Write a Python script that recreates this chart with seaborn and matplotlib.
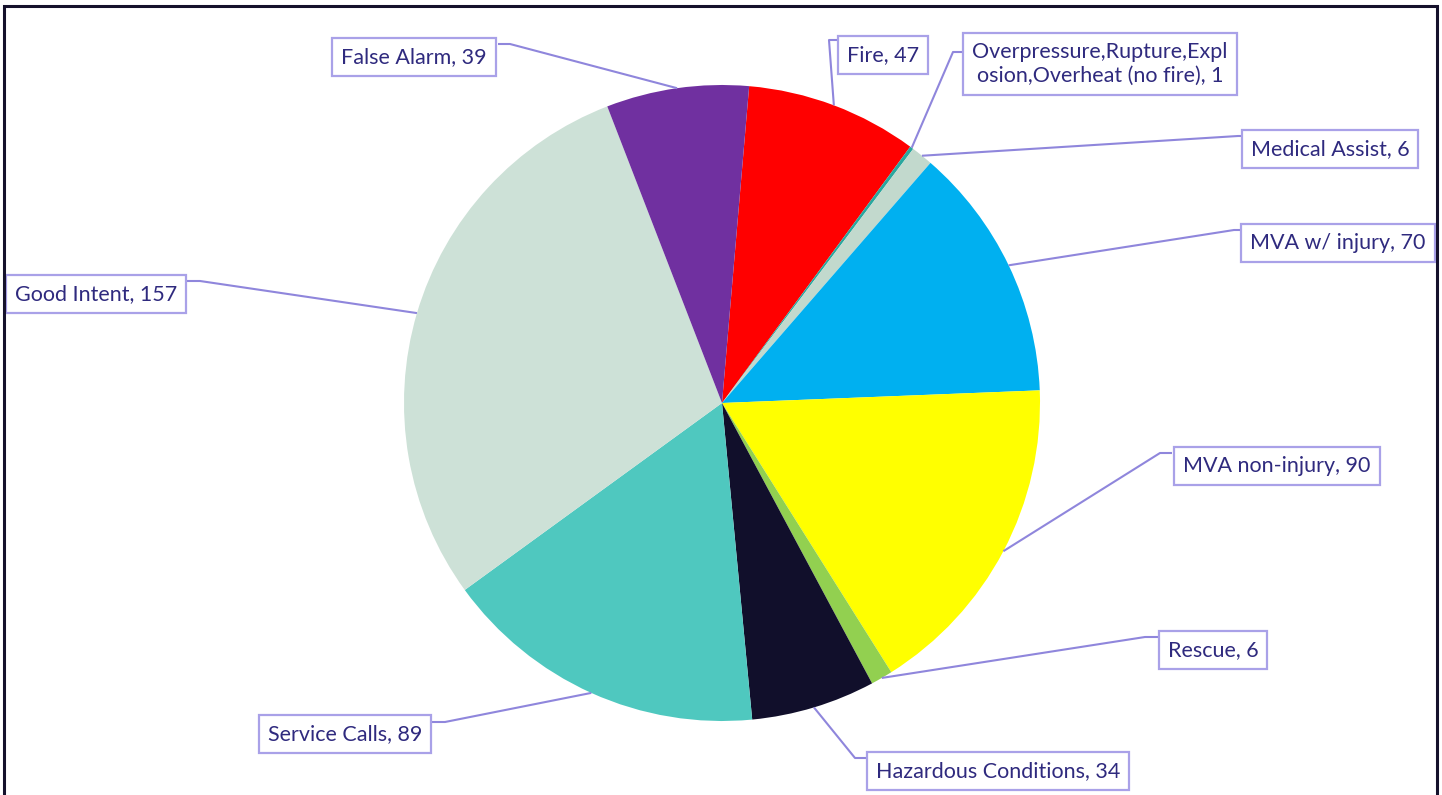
import matplotlib
matplotlib.use("Agg")
import matplotlib.pyplot as plt
import seaborn as sns
import numpy as np
from matplotlib.patches import Rectangle

categories = ["Fire", "Overpressure,Rupture,Expl\nosion,Overheat (no fire)", "Medical Assist",
              "MVA w/ injury", "MVA non-injury", "Rescue", "Hazardous Conditions",
              "Service Calls", "Good Intent", "False Alarm"]
values = [47, 1, 6, 70, 90, 6, 34, 89, 157, 39]
colors = ["#FF0000", "#2AA79E", "#C2D9CD", "#00B0F0", "#FFFF00", "#92D050",
          "#110F2B", "#4FC8BF", "#CDE1D7", "#7030A0"]

sns.set_theme(style="white")
plt.rcParams['font.family'] = ['Lato', 'DejaVu Sans']

W, H = 1442, 795
fig = plt.figure(figsize=(W / 100, H / 100), dpi=100)
fig.patch.set_facecolor("white")
ax = fig.add_axes([0, 0, 1, 1])
cx, cy, R = 722, H - 403, 318
wedges, _ = ax.pie(values, colors=colors, startangle=90 - 4.9, counterclock=False,
                   radius=R, center=(cx, cy), wedgeprops=dict(linewidth=0))
ax.set_xlim(0, W)
ax.set_ylim(0, H)
ax.set_aspect('equal')
ax.axis('off')

# label layout in pixel coords: box centre, attach point, elbow offset
layout = [
    ((883, 55), (838, 40), -9),
    ((1100, 64), (965, 52), -12),
    ((1330, 149), (1250, 136), -12),
    ((1338, 243), (1246, 230), -12),
    ((1277, 466), (1172, 453), -12),
    ((1213, 650), (1158, 637), -13),
    ((998, 771), (866, 758), -11),
    ((345, 734), (432, 722), 13),
    ((96, 294), (187, 281), 13),
    ((414, 57), (498, 44), 12),
]

text_color = "#2F2A7E"
box_color = "#A9A1E8"
line_color = "#8F86DC"

for w, cat, val, (bc, at, el) in zip(wedges, categories, values, layout):
    mid = np.deg2rad((w.theta1 + w.theta2) / 2)
    px, py = cx + R * np.cos(mid), cy + R * np.sin(mid)
    ax.plot([px, at[0] + el, at[0]], [py, H - at[1], H - at[1]], color=line_color,
            lw=1.5, zorder=3, solid_capstyle='butt')
    ax.text(bc[0], H - bc[1], f"{cat}, {val}", ha='center', va='center', fontsize=15.5,
            color=text_color, zorder=5, linespacing=1.2,
            bbox=dict(boxstyle='square,pad=0.42', fc='white', ec=box_color, lw=1.6))

fig.patches.append(Rectangle((4 / W, -0.02), 1433 / W, 1.02 - 6 / H, transform=fig.transFigure,
                             fill=False, ec="#15112C", lw=2.2, zorder=10))

fig.savefig("out.png", dpi=100, facecolor="white")
